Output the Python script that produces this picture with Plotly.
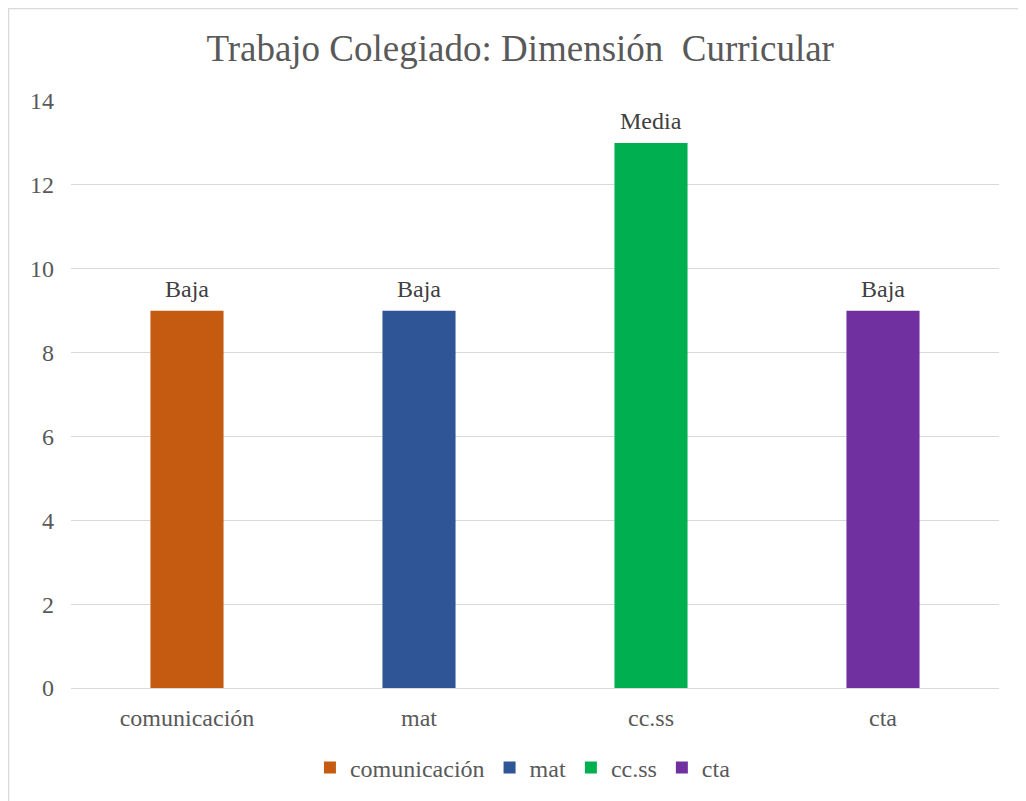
import plotly.graph_objects as go

categories = ["comunicación", "mat", "cc.ss", "cta"]
values = [9, 9, 13, 9]
levels = ["Baja", "Baja", "Media", "Baja"]
colors = ["#C55A11", "#2F5597", "#00B050", "#7030A0"]

serif = "Liberation Serif"

fig = go.Figure()
for cat, val, col in zip(categories, values, colors):
    fig.add_trace(go.Bar(
        x=[cat], y=[val], name=cat,
        marker=dict(color=col, line=dict(width=0)),
        width=0.315,
    ))

# level labels above each bar
for cat, val, lev in zip(categories, values, levels):
    fig.add_annotation(x=cat, y=val, text=lev, showarrow=False,
                       yanchor="bottom", yshift=7,
                       font=dict(family=serif, size=24, color="#404040"))

# page is shown with an 8px offset, so positions are shifted up/left by 8px
fig.update_layout(
    width=1026, height=801,
    margin=dict(l=63, r=35, t=93, b=121),
    paper_bgcolor="white", plot_bgcolor="white",
    barmode="overlay",
    title=dict(text="Trabajo Colegiado: Dimensión\u00a0 Curricular",
               font=dict(family=serif, size=37, color="#595959"),
               x=0.484, xref="paper", xanchor="center",
               y=1 - 40 / 801, yref="container", yanchor="middle"),
    font=dict(family=serif, size=24, color="#595959"),
    legend=dict(orientation="h", x=0.487, xanchor="center",
                y=-0.136, yanchor="middle",
                font=dict(family=serif, size=24, color="#595959"),
                itemclick=False),
    showlegend=True,
    shapes=[dict(type="rect", xref="paper", yref="paper",
                 x0=0.5 / 928 - 63 / 928, x1=1.2,
                 y0=-0.4, y1=(587 + 92.5) / 587,
                 line=dict(color="#D9D9D9", width=1.5), layer="below")],
)
fig.update_xaxes(showgrid=False, showline=True, linecolor="#D9D9D9", linewidth=1,
                 ticks="", tickfont=dict(family=serif, size=24, color="#595959"),
                 ticklabelstandoff=8)
fig.update_yaxes(range=[0, 14], dtick=2, showgrid=True, gridcolor="#D9D9D9",
                 gridwidth=1, zeroline=False, showline=False, ticks="",
                 tickfont=dict(family=serif, size=24, color="#595959"),
                 ticklabelstandoff=16)

fig.write_html("out.html")
